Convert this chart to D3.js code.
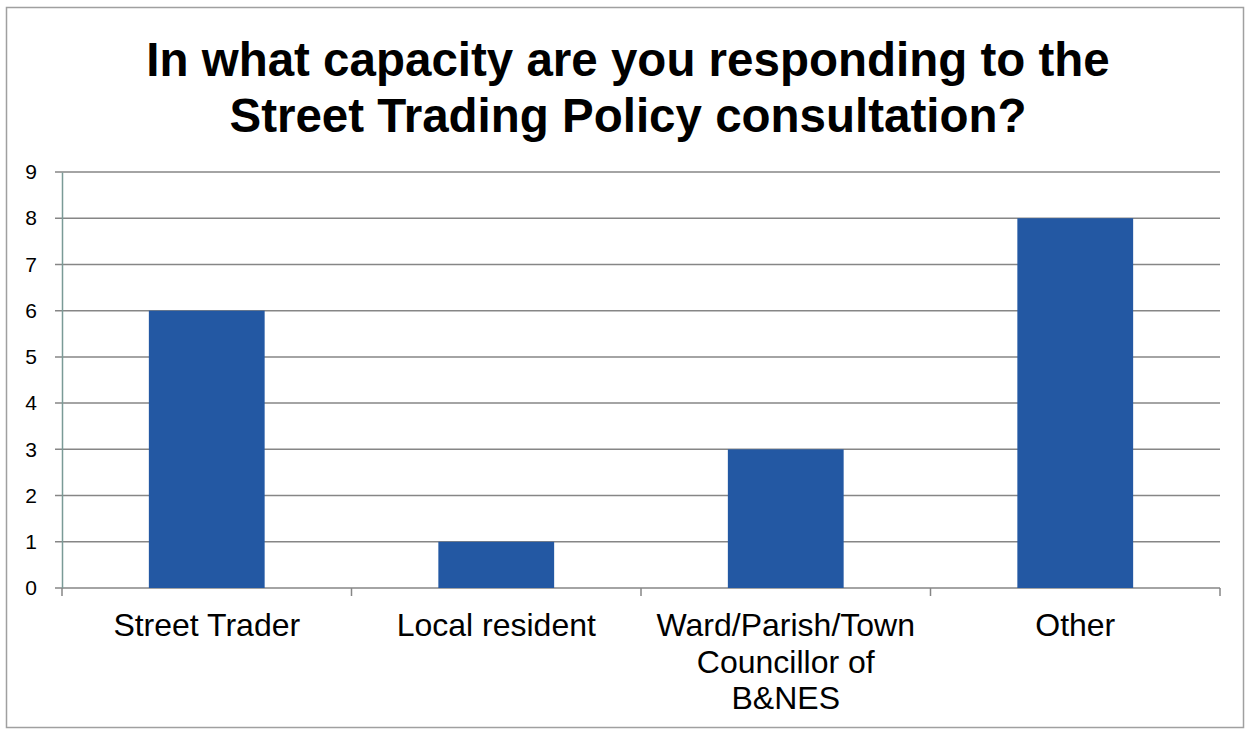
<!DOCTYPE html>
<html>
<head>
<meta charset="utf-8">
<script src="https://cdn.jsdelivr.net/npm/d3@7"></script>
<style>
  body { margin: 0; background: #fff; }
  svg { display: block; font-family: "Liberation Sans", Arial, sans-serif; }
</style>
</head>
<body>
<svg width="1249" height="730"></svg>
<script>
var categories = [["Street Trader"], ["Local resident"], ["Ward/Parish/Town", "Councillor of", "B&NES"], ["Other"]];
var counts = [6, 1, 3, 8];
var yTicks = [0, 1, 2, 3, 4, 5, 6, 7, 8, 9];
var titleLines = ["In what capacity are you responding to the", "Street Trading Policy consultation?"];

var svg = d3.select("svg"),
    margin = {top: 172, right: 29, bottom: 142, left: 62},
    width = +svg.attr("width") - margin.left - margin.right,
    height = +svg.attr("height") - margin.top - margin.bottom;

// outer chart frame
svg.append("rect")
    .attr("x", 6.5).attr("y", 7.5)
    .attr("width", 1237).attr("height", 720)
    .attr("fill", "#fff")
    .attr("stroke", "#a0a0a0")
    .attr("stroke-width", 1.5);

svg.append("g").selectAll("text")
    .data(titleLines)
    .enter().append("text")
    .attr("x", 628)
    .attr("y", function(d, i) { return 76 + i * 56; })
    .attr("text-anchor", "middle")
    .attr("font-size", 47.5)
    .attr("font-weight", "bold")
    .attr("fill", "#000")
    .text(function(d) { return d; });

var g = svg.append("g").attr("transform", "translate(" + margin.left + "," + margin.top + ")");

var x = d3.scaleBand()
    .domain(d3.range(categories.length))
    .range([0, width])
    .paddingInner(0.6)
    .paddingOuter(0.3);

var y = d3.scaleLinear()
    .domain([0, 9])
    .range([height, 0]);

// gridlines
g.append("g")
    .selectAll("line")
    .data(yTicks)
    .enter().append("line")
    .attr("x1", -7).attr("x2", width)
    .attr("y1", function(d) { return y(d); })
    .attr("y2", function(d) { return y(d); })
    .attr("stroke", "#868686")
    .attr("stroke-width", 1.5);

// y axis
var yAxis = g.append("g")
    .call(d3.axisLeft(y).tickValues(yTicks).tickSize(0).tickPadding(25));
yAxis.select(".domain").attr("stroke", "#7a9a96").attr("stroke-width", 1.5);
yAxis.selectAll("text").attr("font-size", 21).attr("fill", "#000")
    .attr("font-family", "Liberation Sans, Arial, sans-serif");

// bars
g.selectAll(".bar")
    .data(counts)
    .enter().append("rect")
    .attr("class", "bar")
    .attr("x", function(d, i) { return x(i); })
    .attr("y", function(d) { return y(d); })
    .attr("width", x.bandwidth())
    .attr("height", function(d) { return height - y(d); })
    .attr("fill", "#2358a3");

// x axis ticks at category boundaries
var bounds = d3.range(categories.length + 1).map(function(i) { return i * width / categories.length; });
g.append("g").selectAll("line")
    .data(bounds)
    .enter().append("line")
    .attr("x1", function(d) { return d; }).attr("x2", function(d) { return d; })
    .attr("y1", height).attr("y2", height + 8)
    .attr("stroke", "#868686")
    .attr("stroke-width", 1.5);

// category labels
var lab = g.append("g").selectAll("text")
    .data(categories)
    .enter().append("text")
    .attr("text-anchor", "middle")
    .attr("font-size", 32)
    .attr("fill", "#000")
    .attr("transform", function(d, i) { return "translate(" + (x(i) + x.bandwidth() / 2) + "," + (height + 48) + ")"; });
lab.selectAll("tspan")
    .data(function(d) { return d; })
    .enter().append("tspan")
    .attr("x", 0)
    .attr("y", function(d, i) { return i * 36.5; })
    .text(function(d) { return d; });
</script>
</body>
</html>
